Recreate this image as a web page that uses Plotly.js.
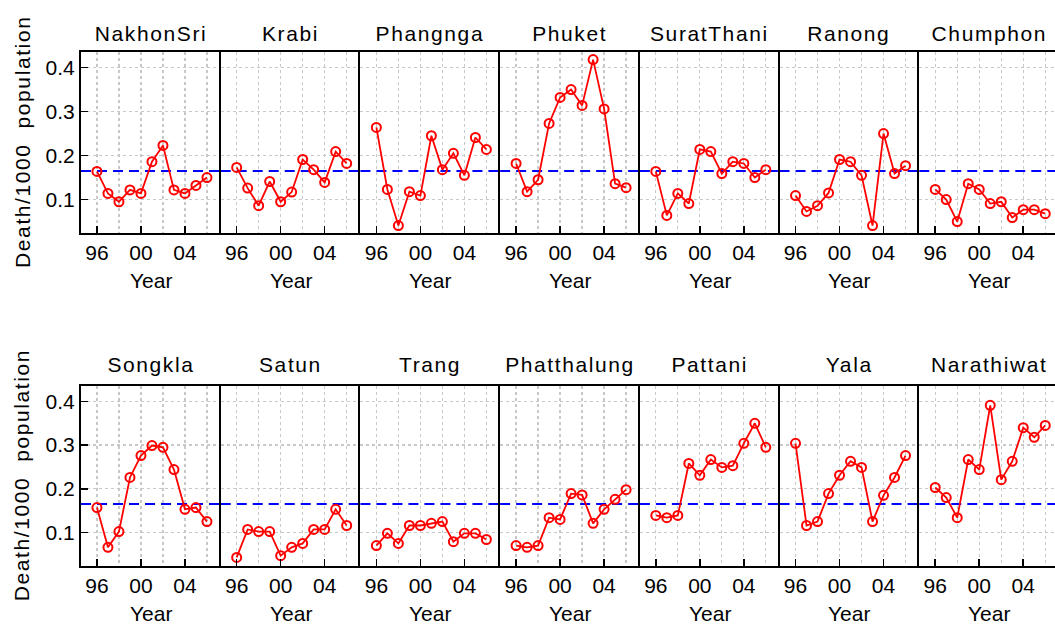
<!DOCTYPE html>
<html>
<head>
<meta charset="utf-8">
<script src="https://cdn.plot.ly/plotly-3.0.1.min.js"></script>
<style>
  html, body { margin: 0; padding: 0; overflow: hidden; background: #fff; }
  #chart { width: 1059px; height: 624px; }
</style>
</head>
<body>
<div id="chart"></div>
<script>
// ---- data ----
const years = [1996, 1997, 1998, 1999, 2000, 2001, 2002, 2003, 2004, 2005, 2006];
const xTickVals = [1996, 2000, 2004];
const xTickText = ['96', '00', '04'];
const yTickVals = [0.1, 0.2, 0.3, 0.4];
const yTickText = ['0.1', '0.2', '0.3', '0.4'];
const refRate = 0.165;

const provinces = ['NakhonSri', 'Krabi', 'Phangnga', 'Phuket', 'SuratThani', 'Ranong', 'Chumphon',
                   'Songkla', 'Satun', 'Trang', 'Phatthalung', 'Pattani', 'Yala', 'Narathiwat'];

const nakhonSri  = [0.164, 0.114, 0.095, 0.122, 0.114, 0.186, 0.223, 0.122, 0.114, 0.132, 0.150];
const krabi      = [0.173, 0.126, 0.086, 0.141, 0.095, 0.117, 0.191, 0.168, 0.139, 0.209, 0.182];
const phangnga   = [0.264, 0.123, 0.041, 0.118, 0.109, 0.245, 0.168, 0.205, 0.155, 0.241, 0.214];
const phuket     = [0.182, 0.118, 0.145, 0.273, 0.332, 0.350, 0.314, 0.418, 0.306, 0.136, 0.127];
const suratThani = [0.164, 0.064, 0.114, 0.091, 0.214, 0.209, 0.159, 0.186, 0.182, 0.150, 0.168];
const ranong     = [0.109, 0.073, 0.086, 0.115, 0.191, 0.186, 0.155, 0.041, 0.250, 0.159, 0.177];
const chumphon   = [0.123, 0.100, 0.050, 0.136, 0.123, 0.091, 0.095, 0.059, 0.077, 0.077, 0.068];
const songkla    = [0.157, 0.066, 0.102, 0.226, 0.276, 0.299, 0.295, 0.244, 0.153, 0.157, 0.125];
const satun      = [0.043, 0.107, 0.102, 0.102, 0.047, 0.066, 0.075, 0.107, 0.107, 0.153, 0.116];
const trang      = [0.070, 0.098, 0.075, 0.116, 0.116, 0.121, 0.125, 0.079, 0.098, 0.098, 0.084];
const phatthalung= [0.070, 0.066, 0.070, 0.134, 0.130, 0.189, 0.186, 0.121, 0.153, 0.176, 0.198];
const pattani    = [0.139, 0.134, 0.139, 0.258, 0.231, 0.267, 0.249, 0.253, 0.304, 0.350, 0.295];
const yala       = [0.304, 0.116, 0.125, 0.189, 0.231, 0.263, 0.249, 0.125, 0.185, 0.226, 0.276];
const narathiwat = [0.203, 0.180, 0.134, 0.267, 0.244, 0.391, 0.221, 0.263, 0.340, 0.318, 0.345];

const seriesList = [nakhonSri, krabi, phangnga, phuket, suratThani, ranong, chumphon,
                    songkla, satun, trang, phatthalung, pattani, yala, narathiwat];

// ---- layout helpers ----
const W = 1059, H = 624, L = 81;
const plotW = W - L;
const nCols = 7;
const rowPx = [[51.7, 233], [385.7, 565.7]];
const py = px => 1 - px / H;
const fontFam = '"Liberation Sans", Arial, sans-serif';
const gridColor = '#c8c8c8';

const data = [];
const layout = {
  width: W, height: H,
  margin: {l: L, r: 0, t: 0, b: 0, pad: 0},
  paper_bgcolor: '#ffffff', plot_bgcolor: '#ffffff',
  showlegend: false,
  font: {family: fontFam, size: 21, color: '#000'},
  shapes: [], annotations: []
};

seriesList.forEach((vals, i) => {
  const row = Math.floor(i / nCols), col = i % nCols;
  const n = i + 1;
  const xa = 'x' + (n === 1 ? '' : n), ya = 'y' + (n === 1 ? '' : n);
  const xKey = 'xaxis' + (n === 1 ? '' : n), yKey = 'yaxis' + (n === 1 ? '' : n);
  data.push({
    x: years, y: vals, xaxis: xa, yaxis: ya,
    type: 'scatter', mode: 'lines+markers',
    line: {color: '#ff0000', width: 1.8},
    marker: {symbol: 'circle-open', size: 9, color: '#ff0000', line: {width: 2, color: '#ff0000'}},
    hoverinfo: 'x+y'
  });
  layout[xKey] = {
    domain: [col / nCols, (col + 1) / nCols],
    anchor: ya,
    range: [1994.55, 2007.25],
    tickmode: 'array', tickvals: xTickVals, ticktext: xTickText,
    ticks: 'inside', ticklen: 7, tickwidth: 1.5, tickcolor: '#000',
    tickfont: {family: fontFam, size: 21, color: '#000'},
    showline: true, mirror: true, linecolor: '#000', linewidth: 2,
    showgrid: false, zeroline: false,
    minor: {tickvals: years.filter(y => y % 2 === 0), showgrid: true, gridcolor: gridColor,
            griddash: '3px,3px', gridwidth: 1.3, ticks: ''},
    fixedrange: true
  };
  layout[yKey] = {
    domain: [py(rowPx[row][1]), py(rowPx[row][0])],
    anchor: xa,
    range: [0.024, 0.436],
    tickmode: 'array', tickvals: yTickVals, ticktext: yTickText,
    ticks: col === 0 ? 'inside' : '', ticklen: 7, tickwidth: 1.5, tickcolor: '#000',
    showticklabels: col === 0,
    tickfont: {family: fontFam, size: 21, color: '#000'},
    showline: true, mirror: col === nCols - 1, linecolor: '#000', linewidth: 2,
    showgrid: true, gridcolor: gridColor, griddash: '3px,3px', gridwidth: 1.3,
    zeroline: false, fixedrange: true
  };
  layout.shapes.push({
    type: 'line', xref: xa + ' domain', yref: ya,
    x0: 0, x1: 1, y0: refRate, y1: refRate, layer: 'below',
    line: {color: '#0000ff', width: 2, dash: '10px,6px'}
  });
  const cx = (col + 0.5) / nCols;
  layout.annotations.push({
    text: provinces[i], xref: 'paper', yref: 'paper', x: cx,
    y: py(row === 0 ? 33 : 364), xanchor: 'center', yanchor: 'middle',
    showarrow: false, font: {family: fontFam, size: 21, color: '#000'}
  });
  layout.annotations.push({
    text: 'Year', xref: 'paper', yref: 'paper', x: cx,
    y: py(row === 0 ? 280 : 613), xanchor: 'center', yanchor: 'middle',
    showarrow: false, font: {family: fontFam, size: 21, color: '#000'}
  });
  if (col === 0) {
    layout.annotations.push({
      text: 'Death/1000&nbsp; population', xref: 'paper', yref: 'paper',
      x: (22 - L) / plotW, y: py((rowPx[row][0] + rowPx[row][1]) / 2),
      xanchor: 'center', yanchor: 'middle', textangle: -90,
      showarrow: false, font: {family: fontFam, size: 21, color: '#000'}
    });
  }
});

Plotly.newPlot('chart', data, layout, {displayModeBar: false, staticPlot: true}).then(gd => {
  gd.querySelectorAll('.annotation-text').forEach(t => {
    if (t.textContent !== 'Year') t.style.letterSpacing = '1.6px';
  });
});
</script>
</body>
</html>
